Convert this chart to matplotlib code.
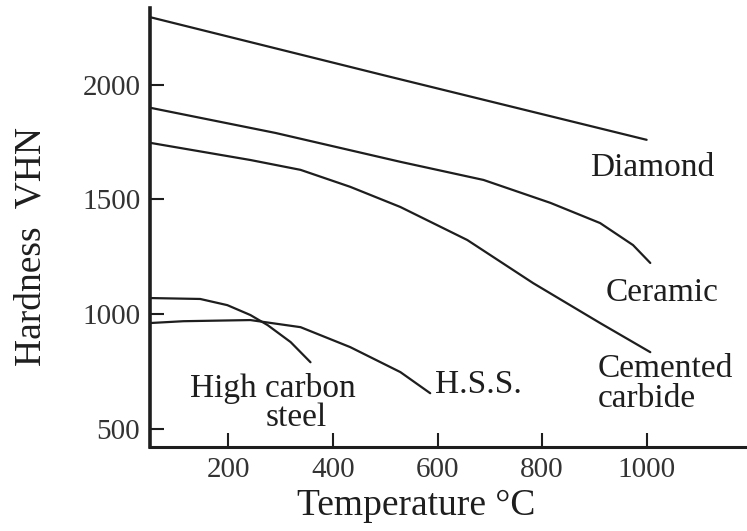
import numpy as np
import matplotlib.pyplot as plt

plt.rcParams['font.family'] = ['Liberation Serif', 'DejaVu Serif']

# values
diamond_t = [50, 500, 1000]
diamond_h = [2295, 2040, 1760]

ceramic_t = [50, 290, 529, 688, 816, 911, 974, 1007]
ceramic_h = [1900, 1790, 1664, 1585, 1485, 1397, 1301, 1223]

carbide_t = [50, 242, 338, 433, 529, 657, 783, 911, 1007]
carbide_h = [1747, 1672, 1629, 1555, 1467, 1323, 1135, 961, 834]

hcs_t = [50, 146, 198, 242, 275, 319, 357]
hcs_h = [1070, 1066, 1039, 996, 952, 878, 790]

hss_t = [50, 114, 242, 338, 433, 529, 586]
hss_h = [961, 969, 974, 943, 856, 747, 655]

xticks = [200, 400, 600, 800, 1000]
yticks = [500, 1000, 1500, 2000]

ink = '#1e1e1e'

fig = plt.figure(figsize=(7.47, 5.31), dpi=100)
ax = fig.add_axes([0.2008, 0.158, 0.7992, 0.827])

for t, h in [(diamond_t, diamond_h), (ceramic_t, ceramic_h), (carbide_t, carbide_h),
             (hcs_t, hcs_h), (hss_t, hss_h)]:
    ax.plot(t, h, color=ink, lw=1.6, solid_capstyle='round', solid_joinstyle='round')

ax.set_xlim(50, 1192)
ax.set_ylim(420, 2335)
ax.set_xticks(xticks)
ax.set_yticks(yticks)
ax.tick_params(direction='in', length=10, width=1.5, colors=ink, labelsize=21, pad=7)
ax.tick_params(axis='x', labelcolor='#333333')
ax.tick_params(axis='y', labelcolor='#333333')

for s in ['top', 'right']:
    ax.spines[s].set_visible(False)
ax.spines['left'].set_linewidth(2.6)
ax.spines['bottom'].set_linewidth(2.2)
ax.spines['left'].set_color(ink)
ax.spines['bottom'].set_color(ink)

ax.set_xlabel('Temperature °C', fontsize=27, color=ink)
ax.xaxis.set_label_coords(0.446, -0.095)
ax.set_ylabel('Hardness  VHN', fontsize=27, color=ink)
ax.yaxis.set_label_coords(-0.17, 0.456)

lab = dict(fontsize=24, color=ink, va='center')
ax.text(892, 1638, 'Diamond', ha='left', **lab)
ax.text(921, 1092, 'Ceramic', ha='left', **lab)
ax.text(906, 760, 'Cemented', ha='left', **lab)
ax.text(906, 632, 'carbide', ha='left', **lab)
ax.text(596, 690, 'H.S.S.', ha='left', **lab)
ax.text(285, 676, 'High carbon', ha='center', **lab)
ax.text(330, 548, 'steel', ha='center', **lab)

fig.savefig('out.png', dpi=100)
